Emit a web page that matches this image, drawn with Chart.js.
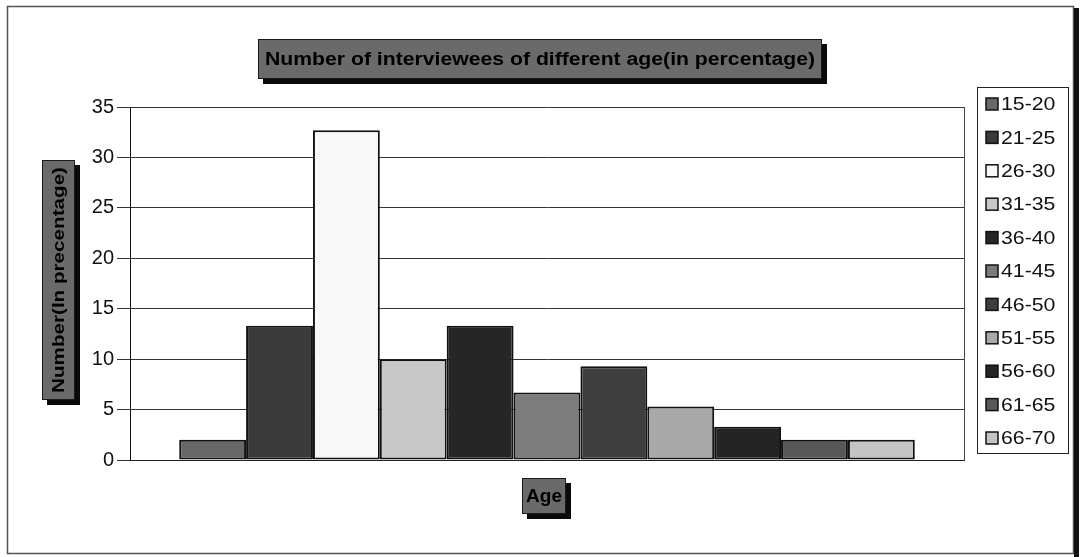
<!DOCTYPE html>
<html>
<head>
<meta charset="utf-8">
<title>Number of interviewees of different age</title>
<script src="https://cdn.jsdelivr.net/npm/chart.js@4.4.1/dist/chart.umd.min.js"></script>
<style>
  html, body { margin: 0; padding: 0; background: #ffffff; }
  #wrap { width: 1080px; height: 557px; }
</style>
</head>
<body>
<div id="wrap"><canvas id="chart" width="1080" height="557"></canvas></div>
<script>
// Age groups of the interviewees and their share (percent)
const ageGroups = ['15-20', '21-25', '26-30', '31-35', '36-40', '41-45', '46-50', '51-55', '56-60', '61-65', '66-70'];
const percentages = [2, 13.3, 32.7, 10, 13.3, 6.7, 9.3, 5.3, 3.3, 2, 2];
const barColors = ['#676767', '#3a3a3a', '#f8f8f8', '#c8c8c8', '#262626', '#7c7c7c', '#3e3e3e', '#a9a9a9', '#242424', '#585858', '#c4c4c4'];
const categories = [''];
const yTickValues = [0, 5, 10, 15, 20, 25, 30, 35];

const chartTitle = 'Number of interviewees of different age(in percentage)';
const yTitle = 'Number(In precentage)';
const xTitle = 'Age';

const FONT = '"Liberation Sans", Arial, Helvetica, sans-serif';

function shadowBox(ctx, x, y, w, h, off) {
  ctx.fillStyle = '#0a0a0a';
  ctx.fillRect(x + off, y + off, w, h);
  ctx.fillStyle = '#6a6a6a';
  ctx.fillRect(x, y, w, h);
  ctx.strokeStyle = '#1a1a1a';
  ctx.lineWidth = 1;
  ctx.strokeRect(x + 0.5, y + 0.5, w - 1, h - 1);
}

// draws text centred at (0,0) of the current transform, stretched to a given width
function stretchedText(ctx, text, width) {
  const m = ctx.measureText(text).width;
  ctx.save();
  ctx.scale(width / m, 1);
  ctx.fillText(text, 0, 0);
  ctx.restore();
}

const decorations = {
  id: 'decorations',
  beforeDraw(chart) {
    const ctx = chart.ctx;
    ctx.save();
    ctx.fillStyle = '#ffffff';
    ctx.fillRect(0, 0, chart.width, chart.height);
    // outer frame
    ctx.strokeStyle = '#555555';
    ctx.lineWidth = 1.5;
    ctx.strokeRect(7.5, 6.5, 1066, 547);
    ctx.fillStyle = '#111111';
    ctx.fillRect(1074, 8, 5, 549);
    ctx.restore();
  },
  afterDraw(chart) {
    const ctx = chart.ctx;
    const area = chart.chartArea;
    ctx.save();

    // plot area right edge
    ctx.strokeStyle = '#444444';
    ctx.lineWidth = 1;
    ctx.beginPath();
    ctx.moveTo(area.right + 0.5, area.top);
    ctx.lineTo(area.right + 0.5, area.bottom);
    ctx.stroke();

    ctx.textAlign = 'center';
    ctx.textBaseline = 'middle';

    // chart title
    shadowBox(ctx, 258, 39, 564, 40, 5);
    ctx.fillStyle = '#000000';
    ctx.font = 'bold 18px ' + FONT;
    ctx.save();
    ctx.translate(540, 60);
    stretchedText(ctx, chartTitle, 550);
    ctx.restore();

    // y axis title (rotated)
    shadowBox(ctx, 42, 160, 33, 240, 5);
    ctx.save();
    ctx.translate(59, 280);
    ctx.rotate(-Math.PI / 2);
    ctx.fillStyle = '#000000';
    ctx.font = 'bold 17px ' + FONT;
    stretchedText(ctx, yTitle, 226);
    ctx.restore();

    // x axis title
    shadowBox(ctx, 522, 478, 44, 36, 5);
    ctx.fillStyle = '#000000';
    ctx.font = 'bold 18px ' + FONT;
    ctx.save();
    ctx.translate(544, 497);
    stretchedText(ctx, xTitle, 36);
    ctx.restore();

    // legend
    const lx = 977, ly = 87, lw = 91, lh = 366;
    ctx.strokeStyle = '#222222';
    ctx.lineWidth = 1;
    ctx.strokeRect(lx + 0.5, ly + 0.5, lw, lh);
    ctx.font = '19px ' + FONT;
    ctx.textAlign = 'left';
    const step = 33.4;
    chart.data.datasets.forEach((ds, i) => {
      const cy = 104 + i * step;
      ctx.fillStyle = ds.backgroundColor;
      ctx.fillRect(986, cy - 6, 12, 12);
      ctx.strokeStyle = '#111111';
      ctx.lineWidth = 1.5;
      ctx.strokeRect(986, cy - 6, 12, 12);
      ctx.fillStyle = '#111111';
      ctx.save();
      ctx.translate(1001, cy + 1);
      ctx.scale(1.12, 1);
      ctx.fillText(ds.label, 0, 0);
      ctx.restore();
    });

    ctx.restore();
  }
};

new Chart(document.getElementById('chart'), {
  type: 'bar',
  data: {
    labels: categories,
    datasets: ageGroups.map((g, i) => ({
      label: g,
      data: [percentages[i]],
      backgroundColor: barColors[i],
      borderColor: '#111111',
      borderWidth: 2,
      borderSkipped: false,
      barPercentage: 1.0,
      categoryPercentage: 0.882
    }))
  },
  options: {
    responsive: false,
    animation: false,
    layout: { padding: { top: 107, right: 116, bottom: 0, left: 0 } },
    plugins: {
      legend: { display: false },
      title: { display: false },
      tooltip: { enabled: false }
    },
    scales: {
      x: {
        ticks: { display: false },
        grid: { display: false, drawTicks: false },
        border: { display: true, color: '#222222', width: 1 },
        afterFit(scale) { scale.height = 97; }
      },
      y: {
        min: 0,
        max: 35,
        afterBuildTicks(scale) { scale.ticks = yTickValues.map(v => ({ value: v })); },
        ticks: {
          color: '#111111',
          font: { family: FONT, size: 20 },
          padding: 3
        },
        grid: { color: '#333333', lineWidth: 1, tickLength: 13, tickColor: '#333333' },
        border: { display: true, color: '#111111', width: 1 },
        afterFit(scale) { scale.width = 130; }
      }
    }
  },
  plugins: [decorations]
});
</script>
</body>
</html>
